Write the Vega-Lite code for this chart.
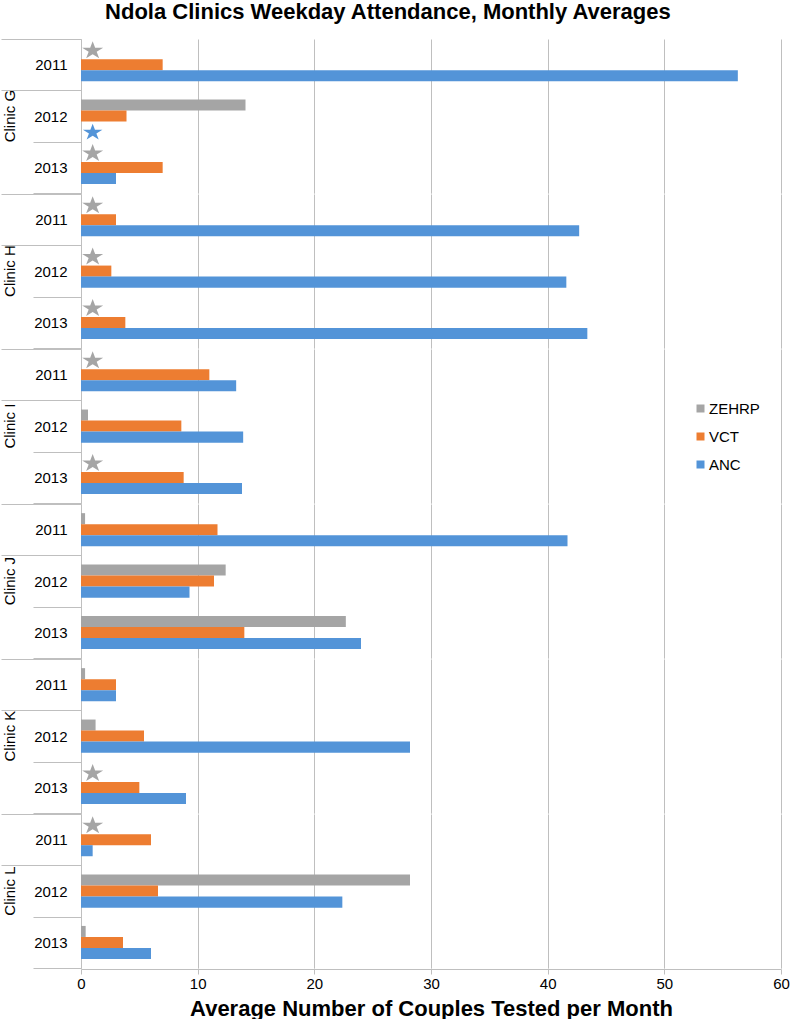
{
  "$schema": "https://vega.github.io/schema/vega-lite/v6.json",
  "padding": {"left": 0, "top": 1, "right": 0, "bottom": 0},
  "background": "white",
  "title": {"text": "Ndola Clinics Weekday Attendance, Monthly Averages", "fontSize": 22, "fontWeight": "bold", "font": "Liberation Sans", "color": "#000", "anchor": "middle", "dx": -7, "offset": 8},
  "data": {"values": [
    {"clinic": "Clinic G", "year": "2011", "series": "ZEHRP", "value": null, "star": true},
    {"clinic": "Clinic G", "year": "2011", "series": "VCT", "value": 7.0, "star": false},
    {"clinic": "Clinic G", "year": "2011", "series": "ANC", "value": 56.3, "star": false},
    {"clinic": "Clinic G", "year": "2012", "series": "ZEHRP", "value": 14.1, "star": false},
    {"clinic": "Clinic G", "year": "2012", "series": "VCT", "value": 3.9, "star": false},
    {"clinic": "Clinic G", "year": "2012", "series": "ANC", "value": null, "star": true},
    {"clinic": "Clinic G", "year": "2013", "series": "ZEHRP", "value": null, "star": true},
    {"clinic": "Clinic G", "year": "2013", "series": "VCT", "value": 7.0, "star": false},
    {"clinic": "Clinic G", "year": "2013", "series": "ANC", "value": 3.0, "star": false},
    {"clinic": "Clinic H", "year": "2011", "series": "ZEHRP", "value": null, "star": true},
    {"clinic": "Clinic H", "year": "2011", "series": "VCT", "value": 3.0, "star": false},
    {"clinic": "Clinic H", "year": "2011", "series": "ANC", "value": 42.7, "star": false},
    {"clinic": "Clinic H", "year": "2012", "series": "ZEHRP", "value": null, "star": true},
    {"clinic": "Clinic H", "year": "2012", "series": "VCT", "value": 2.6, "star": false},
    {"clinic": "Clinic H", "year": "2012", "series": "ANC", "value": 41.6, "star": false},
    {"clinic": "Clinic H", "year": "2013", "series": "ZEHRP", "value": null, "star": true},
    {"clinic": "Clinic H", "year": "2013", "series": "VCT", "value": 3.8, "star": false},
    {"clinic": "Clinic H", "year": "2013", "series": "ANC", "value": 43.4, "star": false},
    {"clinic": "Clinic I", "year": "2011", "series": "ZEHRP", "value": null, "star": true},
    {"clinic": "Clinic I", "year": "2011", "series": "VCT", "value": 11.0, "star": false},
    {"clinic": "Clinic I", "year": "2011", "series": "ANC", "value": 13.3, "star": false},
    {"clinic": "Clinic I", "year": "2012", "series": "ZEHRP", "value": 0.6, "star": false},
    {"clinic": "Clinic I", "year": "2012", "series": "VCT", "value": 8.6, "star": false},
    {"clinic": "Clinic I", "year": "2012", "series": "ANC", "value": 13.9, "star": false},
    {"clinic": "Clinic I", "year": "2013", "series": "ZEHRP", "value": null, "star": true},
    {"clinic": "Clinic I", "year": "2013", "series": "VCT", "value": 8.8, "star": false},
    {"clinic": "Clinic I", "year": "2013", "series": "ANC", "value": 13.8, "star": false},
    {"clinic": "Clinic J", "year": "2011", "series": "ZEHRP", "value": 0.35, "star": false},
    {"clinic": "Clinic J", "year": "2011", "series": "VCT", "value": 11.7, "star": false},
    {"clinic": "Clinic J", "year": "2011", "series": "ANC", "value": 41.7, "star": false},
    {"clinic": "Clinic J", "year": "2012", "series": "ZEHRP", "value": 12.4, "star": false},
    {"clinic": "Clinic J", "year": "2012", "series": "VCT", "value": 11.4, "star": false},
    {"clinic": "Clinic J", "year": "2012", "series": "ANC", "value": 9.3, "star": false},
    {"clinic": "Clinic J", "year": "2013", "series": "ZEHRP", "value": 22.7, "star": false},
    {"clinic": "Clinic J", "year": "2013", "series": "VCT", "value": 14.0, "star": false},
    {"clinic": "Clinic J", "year": "2013", "series": "ANC", "value": 24.0, "star": false},
    {"clinic": "Clinic K", "year": "2011", "series": "ZEHRP", "value": 0.35, "star": false},
    {"clinic": "Clinic K", "year": "2011", "series": "VCT", "value": 3.0, "star": false},
    {"clinic": "Clinic K", "year": "2011", "series": "ANC", "value": 3.0, "star": false},
    {"clinic": "Clinic K", "year": "2012", "series": "ZEHRP", "value": 1.25, "star": false},
    {"clinic": "Clinic K", "year": "2012", "series": "VCT", "value": 5.4, "star": false},
    {"clinic": "Clinic K", "year": "2012", "series": "ANC", "value": 28.2, "star": false},
    {"clinic": "Clinic K", "year": "2013", "series": "ZEHRP", "value": null, "star": true},
    {"clinic": "Clinic K", "year": "2013", "series": "VCT", "value": 5.0, "star": false},
    {"clinic": "Clinic K", "year": "2013", "series": "ANC", "value": 9.0, "star": false},
    {"clinic": "Clinic L", "year": "2011", "series": "ZEHRP", "value": null, "star": true},
    {"clinic": "Clinic L", "year": "2011", "series": "VCT", "value": 6.0, "star": false},
    {"clinic": "Clinic L", "year": "2011", "series": "ANC", "value": 1.0, "star": false},
    {"clinic": "Clinic L", "year": "2012", "series": "ZEHRP", "value": 28.2, "star": false},
    {"clinic": "Clinic L", "year": "2012", "series": "VCT", "value": 6.6, "star": false},
    {"clinic": "Clinic L", "year": "2012", "series": "ANC", "value": 22.4, "star": false},
    {"clinic": "Clinic L", "year": "2013", "series": "ZEHRP", "value": 0.4, "star": false},
    {"clinic": "Clinic L", "year": "2013", "series": "VCT", "value": 3.6, "star": false},
    {"clinic": "Clinic L", "year": "2013", "series": "ANC", "value": 6.0, "star": false}
  ]},
  "facet": {"row": {"field": "clinic", "type": "nominal", "header": {"title": null, "labelAngle": -90, "labelOrient": "left", "labelFontSize": 15, "labelFont": "Liberation Sans", "labelColor": "#000", "labelPadding": -29, "labelAlign": "center", "labelBaseline": "alphabetic"}}},
  "spacing": 0,
  "spec": {
    "width": 700,
    "height": 154.17,
    "layer": [
      {
        "transform": [{"filter": "datum.value != null"}],
        "mark": {"type": "bar"},
        "encoding": {
          "y": {"field": "year", "type": "nominal", "scale": {"type": "band", "paddingInner": 0, "paddingOuter": 0},
            "axis": {"orient": "left", "title": null, "domain": true, "domainColor": "#bfbfbf", "tickBand": "extent",
              "tickSize": {"condition": {"test": "datum.index <= 0", "value": 80}, "value": 48},
              "labelPadding": {"condition": {"test": "datum.index <= 0", "value": -66}, "value": -34},
              "tickColor": "#bfbfbf", "labelAlign": "right", "labelBaseline": "middle", "labelFontSize": 15, "labelColor": "#000", "labelFont": "Liberation Sans", "grid": false}},
          "yOffset": {"field": "series", "type": "nominal", "scale": {"domain": ["ZEHRP", "VCT", "ANC"], "paddingInner": 0, "paddingOuter": 0.83}},
          "x": {"field": "value", "type": "quantitative", "scale": {"domain": [0, 60]},
            "axis": {"title": "Average Number of Couples Tested per Month", "titleFontSize": 22, "titleFontWeight": "bold", "titleFont": "Liberation Sans", "titleColor": "#000", "titlePadding": 7, "values": [0, 10, 20, 30, 40, 50, 60], "grid": true, "gridColor": "#bfbfbf", "domainColor": "#bfbfbf", "tickColor": "#bfbfbf", "tickSize": 5, "labelFontSize": 15, "labelFont": "Liberation Sans", "labelColor": "#000", "labelPadding": 2, "labelFlush": false, "labelOverlap": false}},
          "color": {"field": "series", "type": "nominal", "scale": {"domain": ["ZEHRP", "VCT", "ANC"], "range": ["#a5a5a5", "#ed7d31", "#5394d8"]},
            "legend": {"title": null, "orient": "none", "legendX": 612, "legendY": 362, "symbolType": "square", "symbolSize": 64, "symbolStrokeWidth": 0, "labelFontSize": 15, "labelFont": "Liberation Sans", "labelColor": "#000", "rowPadding": 12, "labelOffset": 1, "padding": 0}}
        }
      },
      {
        "transform": [{"filter": "datum.star && datum.series === 'ZEHRP'"}],
        "mark": {"type": "point", "shape": "M0,-1.13L0.2245,-0.543L0.951,-0.543L0.363,-0.18L0.588,0.408L0,0.045L-0.588,0.408L-0.363,-0.18L-0.951,-0.543L-0.2245,-0.543Z", "size": 488, "filled": true, "color": "#a5a5a5", "opacity": 1, "strokeWidth": 0},
        "encoding": {
          "y": {"field": "year", "type": "nominal", "scale": {"type": "band", "paddingInner": 0, "paddingOuter": 0}},
          "yOffset": {"field": "series", "type": "nominal", "scale": {"domain": ["ZEHRP", "VCT", "ANC"], "paddingInner": 0, "paddingOuter": 0.83}},
          "x": {"datum": 1, "type": "quantitative"}
        }
      },
      {
        "transform": [{"filter": "datum.star && datum.series === 'ANC'"}],
        "mark": {"type": "point", "shape": "M0,-0.32L0.2245,0.267L0.951,0.267L0.363,0.63L0.588,1.218L0,0.855L-0.588,1.218L-0.363,0.63L-0.951,0.267L-0.2245,0.267Z", "size": 420, "filled": true, "color": "#5394d8", "opacity": 1, "strokeWidth": 0},
        "encoding": {
          "y": {"field": "year", "type": "nominal", "scale": {"type": "band", "paddingInner": 0, "paddingOuter": 0}},
          "yOffset": {"field": "series", "type": "nominal", "scale": {"domain": ["ZEHRP", "VCT", "ANC"], "paddingInner": 0, "paddingOuter": 0.83}},
          "x": {"datum": 1, "type": "quantitative"}
        }
      }
    ]
  },
  "config": {"view": {"stroke": null}, "font": "Liberation Sans"}
}
